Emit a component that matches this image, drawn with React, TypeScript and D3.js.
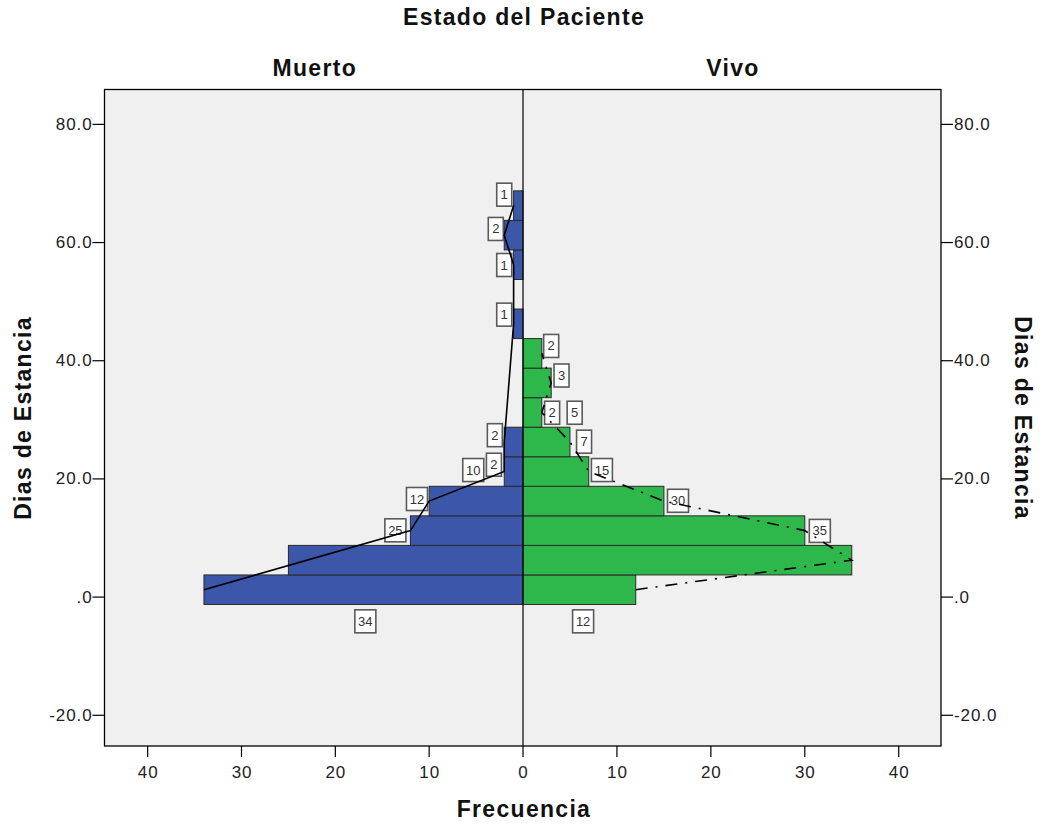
import React from 'react';
import * as d3 from 'd3';

// bins of "Dias de Estancia" (width 5, first lower edge -1.25)
const binStart = -1.25;
const binWidth = 5;

const muertoCounts = [34, 25, 12, 10, 2, 2, 0, 0, 0, 1, 0, 1, 2, 1];
const vivoCounts = [12, 35, 30, 15, 7, 5, 2, 3, 2, 0, 0, 0, 0, 0];

// bins the solid (Muerto) curve passes through, as drawn
const muertoCurveBins = [0, 2, 3, 4, 5, 9, 11, 12, 13];

// where the count labels sit (frecuencia, dias)
const muertoLabelFreq = [16.8, 13.6, 11.3, 5.3, 3.1, 3.0, null, null, null, 2.0, null, 2.0, 2.9, 2.0];
const muertoLabelDias = [-4.1, 11.3, 16.6, 21.5, 22.4, 27.4, null, null, null, 47.8, null, 56.2, 62.3, 68.1];
const vivoLabelFreq = [6.4, 31.6, 16.5, 8.4, 6.5, 5.5, 3.1, 4.1, 3.0];
const vivoLabelDias = [-4.1, 11.2, 16.3, 21.5, 26.3, 31.2, 31.2, 37.5, 42.5];

const yTicks = [-20, 0, 20, 40, 60, 80];
const yTickLabels = ['-20.0', '.0', '20.0', '40.0', '60.0', '80.0'];
const xTicks = [0, 10, 20, 30, 40];

const W = 1045;
const H = 829;
const left = 104.5;
const right = 941;
const top = 89.5;
const bottom = 746;
const cx = 523;

const font = '"Liberation Sans", Arial, sans-serif';
const blue = '#3c56aa';
const green = '#2eb84c';

export default function App() {
  const y = d3.scaleLinear().domain([-25.2, 85.9]).range([bottom, top]);
  const xL = d3.scaleLinear().domain([0, 44.6]).range([cx, left]);
  const xR = d3.scaleLinear().domain([0, 44.5]).range([cx, right]);

  const lo = (k: number) => binStart + k * binWidth;
  const mid = (k: number) => binStart + (k + 0.5) * binWidth;

  const muertoLine = d3.line<number>()
    .x(k => xL(muertoCounts[k]))
    .y(k => y(mid(k)));
  const vivoBins = vivoCounts.map((v, k) => k).filter(k => vivoCounts[k] > 0);
  const vivoLine = d3.line<number>()
    .x(k => xR(vivoCounts[k]))
    .y(k => y(mid(k)));

  const bars = (counts: number[], x: d3.ScaleLinear<number, number>, fill: string, side: string) =>
    counts.map((v, k) => {
      if (!v) return null;
      const x0 = Math.min(x(0), x(v));
      const w = Math.abs(x(v) - x(0));
      return (
        <rect key={side + k} x={x0} y={y(lo(k + 1))} width={w} height={y(lo(k)) - y(lo(k + 1))}
          fill={fill} stroke="#2a2a2a" strokeWidth={1} />
      );
    });

  const labels = (counts: number[], fx: (number | null)[], fy: (number | null)[],
    x: d3.ScaleLinear<number, number>, side: string) =>
    counts.map((v, k) => {
      if (!v || fx[k] == null) return null;
      const px = x(fx[k] as number);
      const py = y(fy[k] as number);
      const bw = String(v).length > 1 ? 21 : 15;
      const bh = 23;
      return (
        <g key={side + 'l' + k}>
          <rect x={px - bw / 2} y={py - bh / 2} width={bw} height={bh} fill="#fff" stroke="#5a5a5a" strokeWidth={1.6} />
          <text x={px} y={py} textAnchor="middle" dominantBaseline="central" fontSize={13}
            fill="#333" fontFamily={font}>{v}</text>
        </g>
      );
    });

  const bold = { fontFamily: font, fontWeight: 700, fontSize: 23, letterSpacing: 1.3, fill: '#111' } as const;
  const tickStyle = { fontFamily: font, fontSize: 17, letterSpacing: 0.9, fill: '#222' } as const;

  return (
    <div style={{ position: 'absolute', left: 0, top: 0 }}>
      <svg width={W} height={H} style={{ display: 'block', background: '#fff' }}>
        <rect x={left} y={top} width={right - left} height={bottom - top} fill="#f0f0f0" />

        {bars(muertoCounts, xL, blue, 'm')}
        {bars(vivoCounts, xR, green, 'v')}

        <line x1={cx} x2={cx} y1={top} y2={bottom} stroke="#000" strokeWidth={1.2} />

        {labels(muertoCounts, muertoLabelFreq, muertoLabelDias, xL, 'm')}
        {labels(vivoCounts, vivoLabelFreq, vivoLabelDias, xR, 'v')}

        <path d={muertoLine(muertoCurveBins) || ''} fill="none" stroke="#000" strokeWidth={1.6} />
        <path d={vivoLine(vivoBins) || ''} fill="none" stroke="#000" strokeWidth={1.6} strokeDasharray="12,8,2,8" />

        <rect x={left} y={top} width={right - left} height={bottom - top} fill="none" stroke="#000" strokeWidth={1.3} />

        {/* y axes, both sides */}
        {yTicks.map((t, i) => (
          <g key={'yt' + t}>
            <line x1={left - 12} x2={left} y1={y(t)} y2={y(t)} stroke="#000" strokeWidth={1.2} />
            <text x={left - 12} y={y(t)} textAnchor="end" dominantBaseline="central" {...tickStyle}>{yTickLabels[i]}</text>
            <line x1={right} x2={right + 12} y1={y(t)} y2={y(t)} stroke="#000" strokeWidth={1.2} />
            <text x={right + 13} y={y(t)} textAnchor="start" dominantBaseline="central" {...tickStyle}>{yTickLabels[i]}</text>
          </g>
        ))}

        {/* frecuencia axis, mirrored */}
        {xTicks.map(t => (
          <g key={'xl' + t}>
            <line x1={xL(t)} x2={xL(t)} y1={bottom} y2={bottom + 11} stroke="#000" strokeWidth={1.2} />
            <text x={xL(t) + 0.5} y={bottom + 26} textAnchor="middle" dominantBaseline="central" {...tickStyle}>{t}</text>
          </g>
        ))}
        {xTicks.filter(t => t > 0).map(t => (
          <g key={'xr' + t}>
            <line x1={xR(t)} x2={xR(t)} y1={bottom} y2={bottom + 11} stroke="#000" strokeWidth={1.2} />
            <text x={xR(t) + 0.5} y={bottom + 26} textAnchor="middle" dominantBaseline="central" {...tickStyle}>{t}</text>
          </g>
        ))}

        <text x={cx + 1} y={17} textAnchor="middle" dominantBaseline="central" {...bold}>Estado del Paciente</text>
        <text x={(left + cx) / 2 + 1} y={68} textAnchor="middle" dominantBaseline="central" {...bold}>Muerto</text>
        <text x={(cx + right) / 2 + 1} y={68} textAnchor="middle" dominantBaseline="central" {...bold}>Vivo</text>
        <text x={cx + 1} y={809} textAnchor="middle" dominantBaseline="central" {...bold}>Frecuencia</text>
        <text transform={`translate(23,418) rotate(-90)`} textAnchor="middle" dominantBaseline="central" {...bold}>Dias de Estancia</text>
        <text transform={`translate(1023,418) rotate(90)`} textAnchor="middle" dominantBaseline="central" {...bold}>Dias de Estancia</text>
      </svg>
    </div>
  );
}
